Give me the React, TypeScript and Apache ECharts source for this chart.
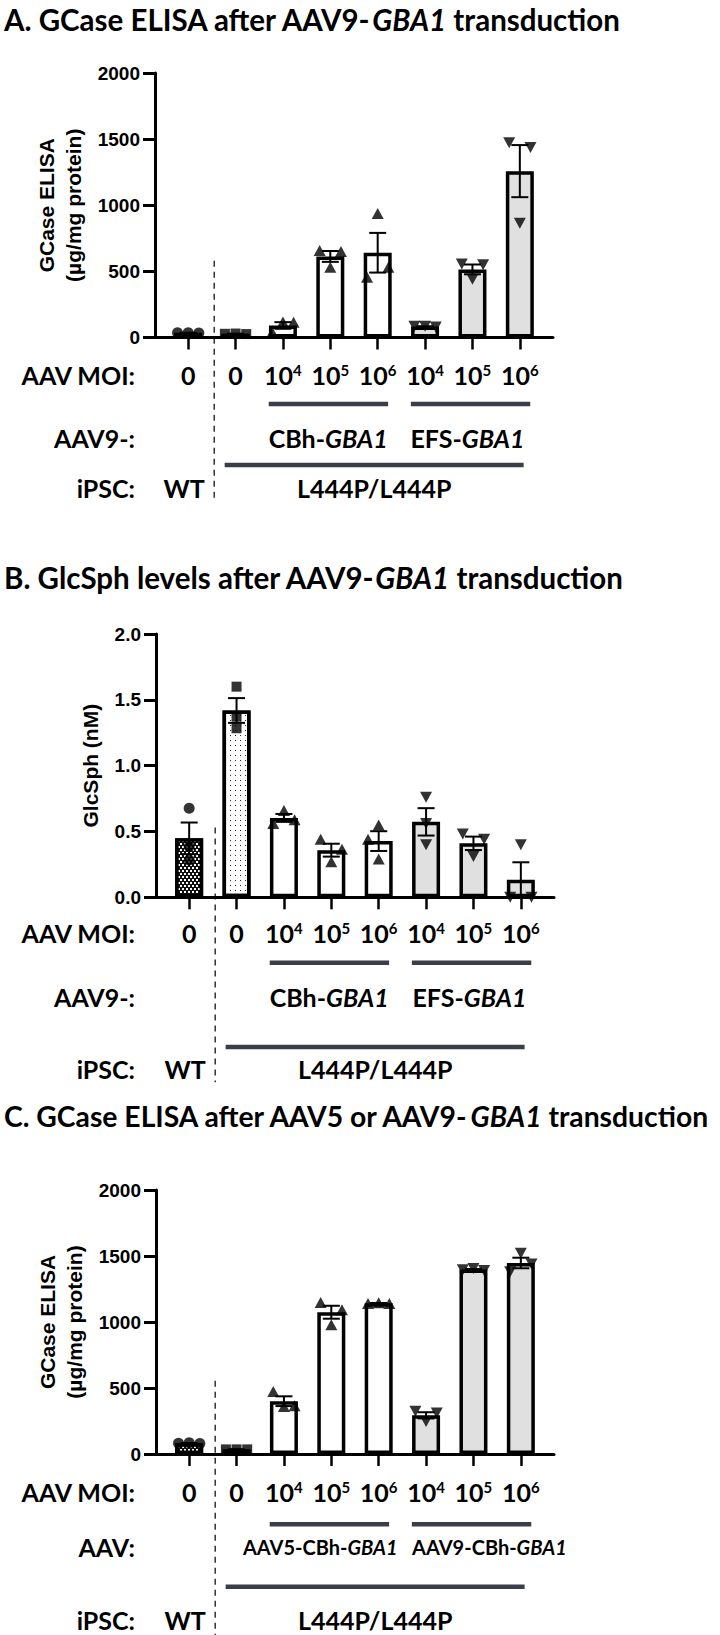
import React, { useEffect, useRef } from 'react';
import * as echarts from 'echarts';

// ---------- shared categories ----------
const MOI_LABELS = ['0', '0', '10^4', '10^5', '10^6', '10^4', '10^5', '10^6'];
const BAR_MARKERS = ['circle', 'rect', 'triangle', 'triangle', 'triangle', 'triangleDown', 'triangleDown', 'triangleDown'];
const BAR_FILLS = ['checker', 'dots', 'white', 'white', 'white', 'gray', 'gray', 'gray'];

// ---------- Panel A: GCase ELISA (µg/mg protein), AAV9 ----------
const A_MEAN = [35, 28, 91, 613, 641, 83, 515, 1258];
const A_SEM = [1, 1, 25, 41, 150, 2, 37, 197];
const A_POINTS = [
  [35, 36, 34], [28, 30, 26], [40, 118, 115], [657, 531, 650],
  [455, 937, 531], [85, 85, 80], [555, 440, 550], [1473, 864, 1436],
];
const A_LANES = [[-1, 0, 1], [-1, 0, 1], [-1, 0, 1], [-1, 0, 1], [-1, 0, 1], [-1, 0, 1], [-1, 0, 1], [-1, 0, 1]];

// ---------- Panel B: GlcSph (nM) ----------
const B_MEAN = [0.448, 1.419, 0.603, 0.358, 0.427, 0.573, 0.41, 0.133];
const B_SEM = [0.12, 0.094, 0.03, 0.049, 0.075, 0.104, 0.051, 0.133];
const B_POINTS = [
  [0.676, 0.385, 0.283], [1.6, 1.372, 1.284], [0.56, 0.66, 0.59], [0.44, 0.27, 0.365],
  [0.44, 0.55, 0.29], [0.76, 0.56, 0.4], [0.48, 0.31, 0.44], [0.0, 0.4, 0.0],
];
const B_LANES = [[0, 0, 0], [0, 0, 0], [-1, 0, 1], [-1, 0, 1], [-1, 0, 0], [0, 0, 0], [-1, 0, 1], [-1, 0, 1]];

// ---------- Panel C: GCase ELISA, AAV5 vs AAV9 ----------
const C_MEAN = [82, 35, 400, 1074, 1142, 293, 1397, 1447];
const C_SEM = [1.5, 1, 37, 49, 2, 23.5, 4.4, 40];
const C_POINTS = [
  [82, 85, 80], [35, 35, 35], [474, 360, 365], [1148, 980, 1093],
  [1140, 1145, 1140], [323, 247, 310], [1395, 1405, 1390], [1381, 1520, 1439],
];
const C_LANES = [[-1, 0, 1], [-1, 0, 1], [-1, 0, 1], [-1, 0, 1], [-1, 0, 1], [-1, 0, 1], [-1, 0, 1], [-1, 0, 1]];

// ---------- text ----------
const TITLES = [
  ['A. GCase ELISA after AAV9-', 'GBA1', ' transduction'],
  ['B. GlcSph levels after AAV9-', 'GBA1', ' transduction'],
  ['C. GCase ELISA after AAV5 or AAV9-', 'GBA1', ' transduction'],
];
const Y_NAMES = ['GCase ELISA\n(µg/mg protein)', 'GlcSph (nM)', 'GCase ELISA\n(µg/mg protein)'];
const ROW2_LABELS = ['AAV9-:', 'AAV9-:', 'AAV:'];
const GROUP_LABELS = [
  [['CBh-', 'GBA1'], ['EFS-', 'GBA1']],
  [['CBh-', 'GBA1'], ['EFS-', 'GBA1']],
  [['AAV5-CBh-', 'GBA1'], ['AAV9-CBh-', 'GBA1']],
];

const FONT = 'Lato';
const AXFONT = 'Liberation Sans';

const PANELS = [
  { mean: A_MEAN, sem: A_SEM, points: A_POINTS, lanes: A_LANES, max: 2000, interval: 500, dec: 0,
    top: 73, height: 264.5, left: 155, titleY: 19, titleSize: 29.5, nameGap: 67, dashTop: 580,
    rows: { moi: 37.5, grp: 66.5, row2: 100.5, long: 127.5, ipsc: 150.5, dashBottom: 163 },
    groupSize: 25, groupShift: [-2, -5] },
  { mean: B_MEAN, sem: B_SEM, points: B_POINTS, lanes: B_LANES, max: 2, interval: 0.5, dec: 1,
    top: 634, height: 263.3, left: 156, titleY: 577, titleSize: 29.5, nameGap: 46, dashTop: 0.53,
    rows: { moi: 35.7, grp: 65.4, row2: 99.7, long: 149.7, ipsc: 171.7, dashBottom: 185 },
    groupSize: 25, groupShift: [-2, -4] },
  { mean: C_MEAN, sem: C_SEM, points: C_POINTS, lanes: C_LANES, max: 2000, interval: 500, dec: 0,
    top: 1190, height: 264, left: 156, titleY: 1116, titleSize: 28.3, nameGap: 67, dashTop: 555,
    rows: { moi: 37.7, grp: 70.3, row2: 92.7, long: 132.7, ipsc: 166, dashBottom: 181 },
    groupSize: 20, groupShift: [-11, 16] },
];

const PLOT_W = 398;
const X_MIN = -0.7;
const X_MAX = 7.7;
const LANE_STEP = 0.225;

function fillFor(kind: string): any {
  if (kind === 'white') return { color: '#ffffff' };
  if (kind === 'gray') return { color: '#e0e0e0' };
  if (kind === 'dots') {
    return {
      color: '#ffffff',
      decal: { symbol: 'rect', symbolSize: 1, color: '#222', backgroundColor: '#ffffff', dashArrayX: [1, 4], dashArrayY: [1, 4] },
    };
  }
  return {
    color: '#111',
    decal: { symbol: 'rect', symbolSize: 1, color: '#ffffff', backgroundColor: '#111', dashArrayX: [[2, 2], [0, 2, 2, 0]], dashArrayY: [2, 1] },
  };
}

function moiFormatter(v: number) {
  const s = MOI_LABELS[Math.round(v)] || '';
  if (s.indexOf('^') >= 0) {
    const [b, e] = s.split('^');
    return `{n|${b}}{s|${e}}`;
  }
  return `{n|${s}}`;
}

function buildOption() {
  const grid: any[] = [];
  const xAxis: any[] = [];
  const yAxis: any[] = [];
  const series: any[] = [];
  const cats = MOI_LABELS.map((_, i) => i);

  PANELS.forEach((p, pi) => {
    grid.push({ left: p.left, top: p.top, width: PLOT_W, height: p.height, containLabel: false });
    xAxis.push({
      type: 'value', gridIndex: pi, min: X_MIN, max: X_MAX,
      splitLine: { show: false },
      axisLine: { show: true, onZero: false, lineStyle: { color: '#000', width: 3 } },
      axisTick: { show: true, customValues: cats, length: 12, lineStyle: { color: '#000', width: 2.5 } },
      axisLabel: {
        show: true, customValues: cats, margin: p.rows.moi - 12.5, formatter: moiFormatter,
        rich: {
          n: { fontFamily: FONT, fontSize: 25, fontWeight: 'bold', color: '#000' },
          s: { fontFamily: FONT, fontSize: 15, fontWeight: 'bold', color: '#000', verticalAlign: 'top' },
        },
      },
    });
    yAxis.push({
      type: 'value', gridIndex: pi, min: 0, max: p.max, interval: p.interval,
      splitLine: { show: false },
      axisLine: { show: true, onZero: false, lineStyle: { color: '#000', width: 3 } },
      axisTick: { show: true, length: 12, lineStyle: { color: '#000', width: 3 } },
      axisLabel: {
        margin: 15, fontFamily: AXFONT, fontSize: 19, fontWeight: 'bold', color: '#000',
        formatter: (v: number) => v.toFixed(p.dec),
      },
      name: Y_NAMES[pi], nameLocation: 'middle', nameRotate: 90, nameGap: p.nameGap,
      nameTextStyle: { fontFamily: AXFONT, fontSize: 21, fontWeight: 'bold', color: '#000', lineHeight: 27 },
    });

    series.push({
      type: 'bar', xAxisIndex: pi, yAxisIndex: pi, barWidth: 28, z: 2,
      itemStyle: { borderColor: '#000', borderWidth: 3.5 },
      data: p.mean.map((m, i) => ({ value: [i, m], itemStyle: fillFor(BAR_FILLS[i]) })),
    });

    series.push({
      type: 'custom', xAxisIndex: pi, yAxisIndex: pi, z: 3, clip: false,
      data: p.mean.map((m, i) => [i, m - p.sem[i], m + p.sem[i]]),
      encode: { x: 0, y: [1, 2] },
      renderItem: (params: any, api: any) => {
        const x = api.value(0);
        const lo = api.coord([x, api.value(1)]);
        const hi = api.coord([x, api.value(2)]);
        const w = 8.5;
        const style = { stroke: '#000', lineWidth: 2 };
        return {
          type: 'group',
          children: [
            { type: 'line', shape: { x1: lo[0], y1: lo[1], x2: hi[0], y2: hi[1] }, style },
            { type: 'line', shape: { x1: hi[0] - w, y1: hi[1], x2: hi[0] + w, y2: hi[1] }, style },
            { type: 'line', shape: { x1: lo[0] - w, y1: lo[1], x2: lo[0] + w, y2: lo[1] }, style },
          ],
        };
      },
    });

    const pts: any[] = [];
    p.points.forEach((arr, i) => {
      arr.forEach((v, k) => {
        const mk = BAR_MARKERS[i];
        const down = mk === 'triangleDown';
        pts.push({
          value: [i + p.lanes[i][k] * LANE_STEP, v],
          symbol: down ? 'triangle' : mk,
          symbolRotate: down ? 180 : 0,
          symbolSize: mk === 'circle' ? 11 : mk === 'rect' ? 10 : [12, 11],
        });
      });
    });
    series.push({
      type: 'scatter', xAxisIndex: pi, yAxisIndex: pi, z: 4, clip: false,
      itemStyle: { color: '#000' }, data: pts,
    });
  });

  return {
    animation: false,
    backgroundColor: '#ffffff',
    grid, xAxis, yAxis, series,
  };
}

function text(x: number, y: number, t: string, size: number, align = 'center', rich?: any, weight = 'bold'): any {
  return {
    type: 'text', x, y, silent: true,
    style: {
      text: t, fill: '#000', fontFamily: FONT, fontSize: size, fontWeight: weight,
      align, verticalAlign: 'middle', textAlign: align, textVerticalAlign: 'middle', rich,
    },
  };
}

function italicRich(size: number) {
  return {
    r: { fontFamily: FONT, fontSize: size, fontWeight: 'bold', color: '#000' },
    i: { fontFamily: FONT, fontSize: size, fontWeight: 'bold', fontStyle: 'italic', color: '#000' },
  };
}

function buildGraphics(chart: any) {
  const els: any[] = [];
  PANELS.forEach((p, pi) => {
    const px = (v: number) => chart.convertToPixel({ xAxisIndex: pi }, v) as number;
    const py = (v: number) => chart.convertToPixel({ yAxisIndex: pi }, v) as number;
    const y0 = py(0);
    const t = TITLES[pi];
    els.push(text(4, p.titleY, `{r|${t[0]}}{i|${t[1]}}{r|${t[2]}}`, p.titleSize, 'left', italicRich(p.titleSize)));

    const labelRight = 135;
    els.push(text(labelRight, y0 + p.rows.moi, 'AAV MOI:', 25, 'right'));
    els.push(text(labelRight, y0 + p.rows.row2, ROW2_LABELS[pi], 25, 'right'));
    els.push(text(labelRight, y0 + p.rows.ipsc, 'iPSC:', 25, 'right'));
    els.push(text(px(0) - 4, y0 + p.rows.ipsc, 'WT', 25, 'center'));

    const lineStyle = { stroke: '#3a3e48', lineWidth: 4.5 };
    const groups = [[2, 4], [5, 7]];
    groups.forEach(([a, b], gi) => {
      els.push({ type: 'line', silent: true, shape: { x1: px(a - 0.3), y1: y0 + p.rows.grp, x2: px(b + 0.22), y2: y0 + p.rows.grp }, style: lineStyle });
      const gl = GROUP_LABELS[pi][gi];
      const cx = px((a + b) / 2) + p.groupShift[gi];
      els.push(text(cx, y0 + p.rows.row2, `{r|${gl[0]}}{i|${gl[1]}}`, p.groupSize, 'center', italicRich(p.groupSize)));
    });
    const lx1 = px(1 - 0.23);
    const lx2 = px(7 + 0.08);
    els.push({ type: 'line', silent: true, shape: { x1: lx1, y1: y0 + p.rows.long, x2: lx2, y2: y0 + p.rows.long }, style: lineStyle });
    els.push(text((lx1 + lx2) / 2, y0 + p.rows.ipsc, 'L444P/L444P', 25, 'center'));

    const dx = px(0.55);
    els.push({
      type: 'line', silent: true,
      shape: { x1: dx, y1: py(p.dashTop), x2: dx, y2: y0 + p.rows.dashBottom },
      style: { stroke: '#333', lineWidth: 1.5, lineDash: [6, 5] },
    });
  });
  return els;
}

export default function App() {
  const ref = useRef<HTMLDivElement>(null);
  useEffect(() => {
    document.body.style.margin = '0';
    if (!ref.current) return;
    const chart = echarts.init(ref.current, null, { renderer: 'svg', width: 720, height: 1635 });
    chart.setOption(buildOption() as any);
    chart.setOption({ graphic: { elements: buildGraphics(chart) } } as any);
    return () => chart.dispose();
  }, []);
  return <div ref={ref} style={{ width: 720, height: 1635 }} />;
}
